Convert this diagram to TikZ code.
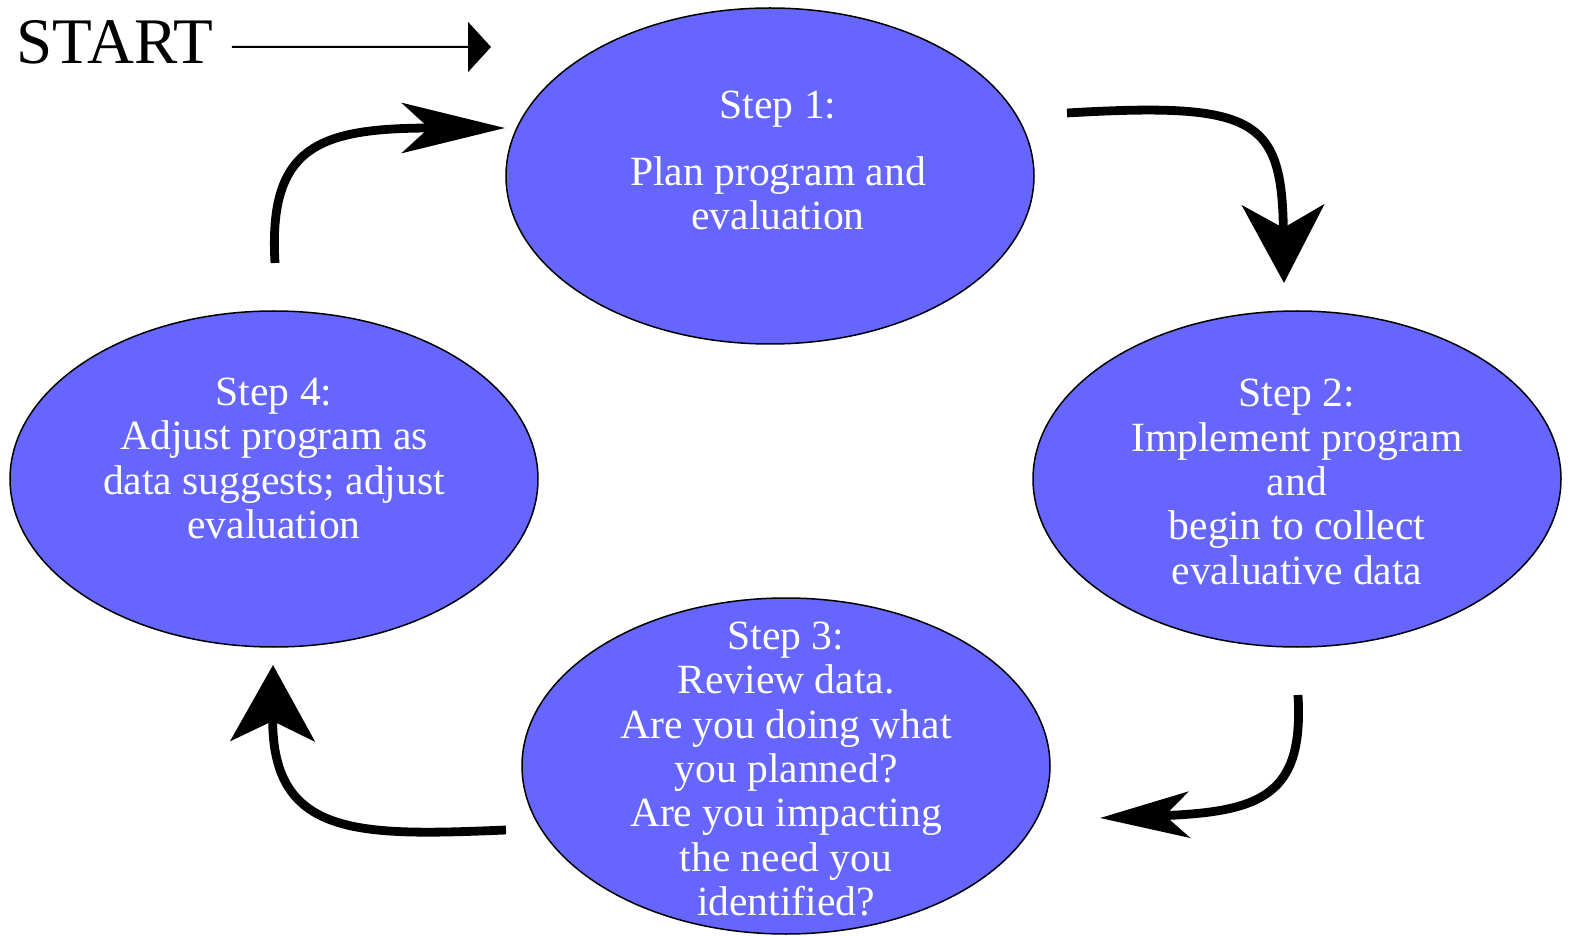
\documentclass[tikz,border=0pt]{standalone}
\usepackage{fontspec}
\setmainfont{Liberation Serif}
\usetikzlibrary{arrows.meta, shapes.geometric, positioning}
\definecolor{stepblue}{RGB}{102,102,255}
\tikzset{%
  % Specifications for style of nodes:
  stepbox/.style = {ellipse, draw=black, line width=0.75pt, fill=stepblue,
                    minimum width=264pt, minimum height=168pt, inner sep=0pt},
  steptext/.style = {text=white, align=center, inner sep=0pt,
                     font=\fontsize{20.8pt}{22.2pt}\selectfont},
  starttext/.style = {font=\fontsize{32.5pt}{36pt}\selectfont,
                      inner ysep=0pt, inner xsep=9pt, text depth=4.5pt},
  % Specifications for style of arrows:
  startline/.style = {line width=1pt, -{Triangle[length=11.5pt,width=25pt]}},
  cycleline/.style = {line width=4.4pt}
}

\begin{document}
\begin{tikzpicture}[x=0.5pt, y=-0.5pt]
  \useasboundingbox (0,0) rectangle (1571,936);

  % the four steps
  \node[stepbox] (s1) at (770,176) {};
  \node[stepbox] (s2) at (1297,479) {};
  \node[stepbox] (s3) at (786,766) {};
  \node[stepbox] (s4) at (274,479) {};

  \node[steptext] (t1) at ([xshift=4pt, yshift=7.75pt]s1.center)
    {Step 1:\\[11.5pt] Plan program and\\ evaluation};
  \node[steptext] (t2) at ([yshift=-1.5pt]s2.center)
    {Step 2:\\ Implement program\\ and\\ begin to collect\\ evaluative data};
  \node[steptext] (t3) at ([yshift=-1.5pt]s3.center)
    {Step 3:\\ Review data.\\ Are you doing what\\ you planned?\\ Are you impacting\\ the need you\\ identified?};
  \node[steptext] (t4) at ([yshift=10.25pt]s4.center)
    {Step 4:\\ Adjust program as\\ data suggests; adjust\\ evaluation};

  % start
  \node[starttext, anchor=base] (start) at (115,64) {START};
  \coordinate (go) at (491,47);
  \draw[startline] (start) -- (go);

  % arrows round the cycle
  \coordinate (a1) at (275,263);
  \coordinate (b1) at (505,128);
  \coordinate (a2) at (1067,113);
  \coordinate (b2) at (1284,283);
  \coordinate (a3) at (1298,695);
  \coordinate (b3) at (1100,818);
  \coordinate (a4) at (506,830);
  \coordinate (b4) at (273,665);

  \draw[cycleline, -{Stealth[length=51.5pt, width=25pt, inset=13.5pt]}]
    (a1) .. controls (268,145) and (320,128) .. (b1);
  \draw[cycleline, -{Stealth[length=39pt, width=41pt, inset=11.5pt]}]
    (a2) .. controls (1255,102) and (1282,118) .. (b2);
  \draw[cycleline, -{Stealth[length=44.5pt, width=23pt, inset=12pt]}]
    (a3) .. controls (1304,795) and (1262,812) .. (b3);
  \draw[cycleline, -{Stealth[length=38pt, width=42pt, inset=10pt]}]
    (a4) .. controls (360,836) and (272,838) .. (b4);
\end{tikzpicture}
\end{document}
